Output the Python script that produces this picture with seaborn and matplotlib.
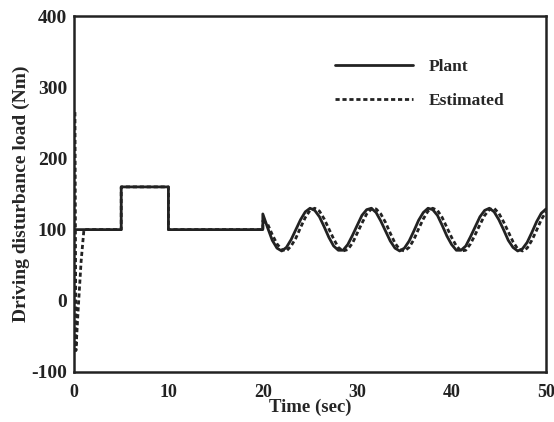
import matplotlib
matplotlib.use("Agg")
import matplotlib.pyplot as plt
import seaborn as sns
import pandas as pd

# ---- data ----
plant_t = [0, 5, 5, 10, 10, 20, 20, 20.5, 21, 21.5, 22, 22.5, 23, 23.5, 24, 24.5, 25, 25.5, 26, 26.5,
           27, 27.5, 28, 28.5, 29, 29.5, 30, 30.5, 31, 31.5, 32, 32.5, 33, 33.5, 34, 34.5,
           35, 35.5, 36, 36.5, 37, 37.5, 38, 38.5, 39, 39.5, 40, 40.5, 41, 41.5, 42, 42.5,
           43, 43.5, 44, 44.5, 45, 45.5, 46, 46.5, 47, 47.5, 48, 48.5, 49, 49.5, 50]
plant_v = [100, 100, 160, 160, 100, 100, 122, 103, 85, 74, 70, 75, 86, 100, 114, 125, 130, 127, 118, 104,
           89, 77, 71, 71, 79, 92, 106, 120, 128, 130, 124, 112, 98, 84, 74, 70,
           74, 84, 98, 113, 124, 130, 128, 120, 106, 91, 79, 71, 71, 77, 90, 104,
           118, 127, 130, 125, 114, 100, 85, 75, 70, 73, 82, 96, 111, 123, 129]

est_t = [0.1, 0.2, 0.45, 0.75, 1.05, 5, 5, 10, 10, 20, 20, 20.5, 21, 21.5, 22, 22.5, 23, 23.5, 24, 24.5, 25,
         25.5, 26, 26.5, 27, 27.5, 28, 28.5, 29, 29.5, 30, 30.5, 31, 31.5, 32, 32.5, 33, 33.5,
         34, 34.5, 35, 35.5, 36, 36.5, 37, 37.5, 38, 38.5, 39, 39.5, 40, 40.5, 41, 41.5, 42,
         42.5, 43, 43.5, 44, 44.5, 45, 45.5, 46, 46.5, 47, 47.5, 48, 48.5, 49, 49.5, 50]
est_v = [265, -70, -10, 55, 100, 100, 160, 160, 100, 100, 112, 108, 93, 80, 72, 70, 77, 88, 103, 117, 127,
         130, 126, 115, 101, 87, 75, 70, 72, 81, 95, 109, 122, 129, 129, 122, 110, 95,
         81, 72, 70, 75, 86, 101, 115, 126, 130, 127, 117, 103, 89, 77, 70, 71, 80,
         93, 107, 120, 128, 130, 123, 111, 97, 83, 73, 70, 74, 85, 99, 114, 125]

x_ticks = [0, 10, 20, 30, 40, 50]
y_ticks = [-100, 0, 100, 200, 300, 400]
series_names = ["Plant", "Estimated"]

df = pd.concat([
    pd.DataFrame({"t": plant_t, "v": plant_v, "s": series_names[0], "o": range(len(plant_t))}),
    pd.DataFrame({"t": est_t, "v": est_v, "s": series_names[1], "o": range(len(est_t))}),
])

sns.set_style("white")
plt.rcParams["font.family"] = ["Liberation Serif", "DejaVu Serif"]
plt.rcParams["font.weight"] = "bold"
plt.rcParams["axes.unicode_minus"] = False

fig = plt.figure(figsize=(5.54, 4.22), dpi=100)
ax = fig.add_axes([0.1336, 0.1185, 0.852, 0.8435])

sns.lineplot(data=df, x="t", y="v", hue="s", style="s", sort=False, estimator=None,
             palette=["#222222", "#222222"], dashes={"Plant": "", "Estimated": (1.5, 1.0)},
             linewidth=2.0, ax=ax)

ax.set_xlim(0, 50)
ax.set_ylim(-100, 400)
ax.set_xticks(x_ticks)
ax.set_yticks(y_ticks)
ax.tick_params(axis="x", direction="out", length=5, width=1.5, labelsize=13, pad=4, colors="#222222")
ax.tick_params(axis="y", direction="out", length=5, width=1.5, labelsize=14, pad=0, colors="#222222")
for lab in ax.get_xticklabels() + ax.get_yticklabels():
    lab.set_fontweight("bold")
for sp in ax.spines.values():
    sp.set_visible(True)
    sp.set_color("#222222")
    sp.set_linewidth(1.8)

ax.set_xlabel("Time (sec)", fontsize=13.5, fontweight="bold", labelpad=-2)
ax.set_ylabel("Driving disturbance load (Nm)", fontsize=14, fontweight="bold", labelpad=1)

leg = ax.legend(frameon=False, loc="upper left", bbox_to_anchor=(0.553, 0.88),
                borderaxespad=0, borderpad=0,
                fontsize=12.5, handlelength=4.5, labelspacing=1.05, handletextpad=0.9)
leg.set_title(None)
for line in leg.get_lines():
    line.set_linewidth(2.0)
for t in leg.get_texts():
    t.set_fontweight("bold")

fig.savefig("out.png", dpi=100)
